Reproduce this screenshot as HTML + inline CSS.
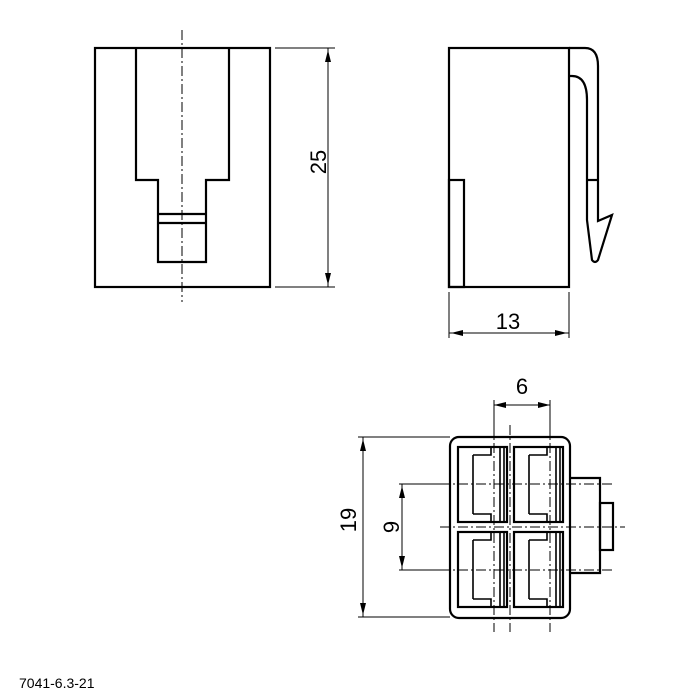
<!DOCTYPE html>
<html><head><meta charset="utf-8"><style>html,body{margin:0;padding:0;background:#fff}svg{display:block}</style></head>
<body>
<svg width="700" height="700" viewBox="0 0 700 700" xmlns="http://www.w3.org/2000/svg" font-family="Liberation Sans, sans-serif">
<g fill="none" stroke="#000" stroke-width="2.2" stroke-linejoin="miter">
<rect x="95" y="48" width="175" height="239"/>
<path d="M136,48 V180 H158 V262 H206 V180 H229 V48"/>
<line x1="158" y1="214" x2="206" y2="214"/>
<line x1="158" y1="223" x2="206" y2="223"/>
<rect x="449" y="48" width="120" height="239"/>
<rect x="449" y="180" width="15" height="107"/>
<path d="M569,48 H585 Q598,48 598,66 V221 L612,215 L598,260 Q595,264 592,260 L587,220 V100 Q587,76 572,76 H569"/>
<line x1="587" y1="180" x2="598" y2="180"/>
<rect x="450" y="437" width="120" height="181" rx="9"/>
<path d="M570,478 H600 V573 H570"/>
<rect x="600" y="503" width="13" height="47"/>
<rect x="458" y="447" width="49" height="75"/>
<rect x="514" y="447" width="49" height="75"/>
<rect x="458" y="532" width="49" height="75"/>
<rect x="514" y="532" width="49" height="75"/>
</g>
<g fill="none" stroke="#000" stroke-width="1.6">
<path d="M473,455 V514 M473,455 H491 V448 M473,514 H491 V521 M500,448 V521 M504,448 V521"/>
<path d="M529,455 V514 M529,455 H547 V448 M529,514 H547 V521 M556,448 V521 M560,448 V521"/>
<path d="M473,540 V599 M473,540 H491 V533 M473,599 H491 V606 M500,533 V606 M504,533 V606"/>
<path d="M529,540 V599 M529,540 H547 V533 M529,599 H547 V606 M556,533 V606 M560,533 V606"/>
</g>
<g stroke="#000" stroke-width="1" stroke-dasharray="10,3,2,3" fill="none">
<line x1="182" y1="30" x2="182" y2="302"/>
<line x1="510" y1="425" x2="510" y2="632"/>
<line x1="494" y1="425" x2="494" y2="632"/>
<line x1="550" y1="425" x2="550" y2="632"/>
<line x1="440" y1="527" x2="625" y2="527"/>
<line x1="440" y1="484" x2="612" y2="484"/>
<line x1="440" y1="570" x2="612" y2="570"/>
</g>
<g stroke="#000" stroke-width="1" fill="none">
<line x1="275" y1="48" x2="335" y2="48"/>
<line x1="275" y1="287" x2="335" y2="287"/>
<line x1="328" y1="48" x2="328" y2="287"/>
<line x1="449" y1="292" x2="449" y2="338"/>
<line x1="569" y1="292" x2="569" y2="338"/>
<line x1="449" y1="333" x2="569" y2="333"/>
<line x1="494" y1="400" x2="494" y2="437"/>
<line x1="550" y1="400" x2="550" y2="437"/>
<line x1="494" y1="405" x2="550" y2="405"/>
<line x1="358" y1="437" x2="450" y2="437"/>
<line x1="358" y1="617" x2="450" y2="617"/>
<line x1="363" y1="437" x2="363" y2="617"/>
<line x1="399" y1="484" x2="445" y2="484"/>
<line x1="399" y1="570" x2="445" y2="570"/>
<line x1="402" y1="484" x2="402" y2="570"/>
</g>
<g fill="#000">
<path d="M328,50 l-3,12 h6 z"/><path d="M328,285 l-3,-12 h6 z"/>
<path d="M451,333 l12,-3 v6 z"/><path d="M567,333 l-12,-3 v6 z"/>
<path d="M494,405 l12,-3 v6 z"/><path d="M550,405 l-12,-3 v6 z"/>
<path d="M363,439 l-3,12 h6 z"/><path d="M363,615 l-3,-12 h6 z"/>
<path d="M402,486 l-3,12 h6 z"/><path d="M402,568 l-3,-12 h6 z"/>
</g>
<g font-size="22" fill="#000" text-anchor="middle">
<text transform="translate(326,162) rotate(-90)">25</text>
<text x="508" y="329">13</text>
<text x="522" y="394">6</text>
<text transform="translate(356,520) rotate(-90)">19</text>
<text transform="translate(399,527) rotate(-90)">9</text>
</g>
<text x="19" y="688" font-size="14" fill="#000">7041-6.3-21</text>
</svg>
</body></html>
